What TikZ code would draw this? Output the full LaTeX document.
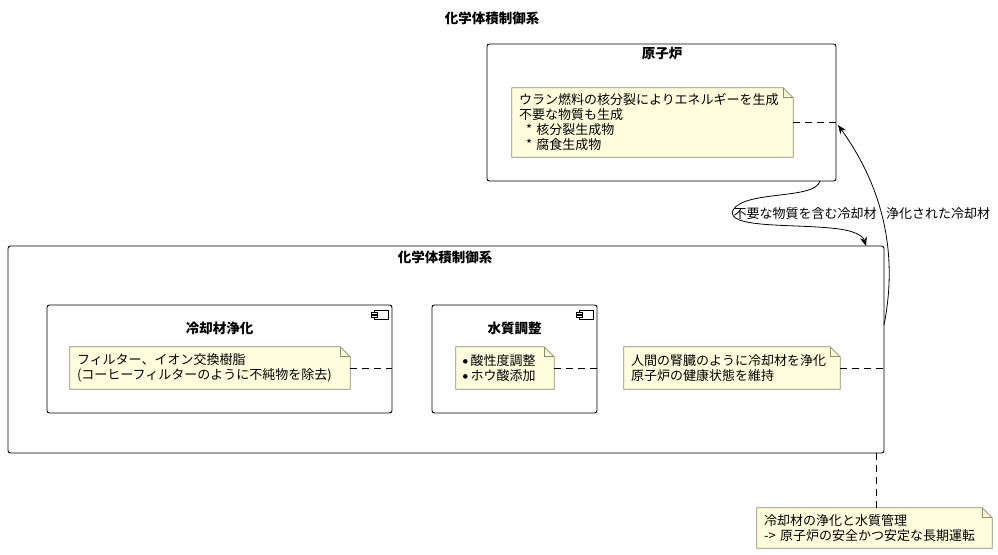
\documentclass[tikz,border=0pt]{standalone}
\usepackage{fontspec}
\setmainfont{Noto Sans CJK JP}
\usetikzlibrary{arrows.meta,backgrounds}
\definecolor{notefill}{RGB}{254,254,222}
\definecolor{noteline}{RGB}{140,140,110}
\newcommand{\dogear}[1]{%
  \begin{scope}[on background layer]
    \filldraw[fill=notefill,draw=noteline,line width=0.8pt] (#1.south west) -- (#1.north west) -- ([xshift=-10pt]#1.north east) -- ([yshift=-10pt]#1.north east) -- (#1.south east) -- cycle;
  \end{scope}
  \draw[noteline,line width=0.8pt] ([xshift=-10pt]#1.north east) -- ([xshift=-10pt,yshift=-10pt]#1.north east) -- ([yshift=-10pt]#1.north east);}
\newcommand{\compicon}[2]{%
  \draw[line width=0.7pt,fill=white] (#1,#2) rectangle (#1+14,#2+9);
  \draw[line width=0.7pt,fill=white] (#1-3,#2+2) rectangle (#1+3,#2+4);
  \draw[line width=0.7pt,fill=white] (#1-3,#2+5.5) rectangle (#1+3,#2+7.5);}
\newcommand{\bul}{\raisebox{0.25ex}{\tikz\fill[black] (0,0) circle (2.3pt);}\hspace{3pt}}
\begin{document}
\begin{tikzpicture}[x=1pt,y=-1pt,
  frame/.style={draw,line width=0.9pt,rounded corners=2.5pt},
  ttl/.style={font=\fontsize{13.5}{16}\selectfont\bfseries},
  note/.style={inner xsep=7pt,inner ysep=3pt,align=left,font=\fontsize{13}{15}\selectfont},
  lbl/.style={font=\fontsize{13}{15}\selectfont,inner sep=1pt},
  link/.style={line width=0.8pt,dashed,dash pattern=on 7pt off 5pt},
  flow/.style={line width=0.8pt,-{Stealth[length=9pt,width=7pt]}}]
\useasboundingbox (0,0) rectangle (998,554);
\begin{scope}[on background layer]
\fill[white] (0,0) rectangle (998,554);
\end{scope}

\node[ttl] (title) at (492,18) {化学体積制御系};

% reactor
\draw[frame] (487,44) rectangle (836,181);
\node[ttl] (rtitle) at (662,54) {原子炉};
\node[note,minimum width=281pt,minimum height=69pt,text width=267pt] (n1) at (652.5,122.5)
 {ウラン燃料の核分裂によりエネルギーを生成\\不要な物質も生成\\\hspace{7pt}* 核分裂生成物\\\hspace{7pt}* 腐食生成物};
\dogear{n1}
\coordinate (rR) at (836,122);
\draw[link] (n1.east |- rR) -- (rR);

% CVCS
\draw[frame] (8,246) rectangle (884,453);
\node[ttl] (ctitle) at (445,257) {化学体積制御系};

% component 1
\draw[frame] (47,305) rectangle (392,413);
\compicon{374}{310}
\node[ttl] (c1title) at (219.5,328) {冷却材浄化};
\node[note,minimum width=280pt,minimum height=42pt,text width=266pt] (n2) at (210,368)
 {フィルター、イオン交換樹脂\\(コーヒーフィルターのように不純物を除去)};
\dogear{n2}
\coordinate (c1R) at (392,368);
\draw[link] (n2.east |- c1R) -- (c1R);

% component 2
\draw[frame] (432,305) rectangle (597,413);
\compicon{579}{310}
\node[ttl] (c2title) at (514.5,328) {水質調整};
\node[note,minimum width=98pt,minimum height=42pt,text width=84pt] (n3) at (505,368)
 {\bul 酸性度調整\\\bul ホウ酸添加};
\dogear{n3}
\coordinate (c2R) at (597,368);
\draw[link] (n3.east |- c2R) -- (c2R);

% note 4
\node[note,minimum width=216pt,minimum height=42pt,text width=202pt] (n4) at (732,368)
 {人間の腎臓のように冷却材を浄化\\原子炉の健康状態を維持};
\dogear{n4}
\coordinate (cR) at (884,368);
\draw[link] (n4.east |- cR) -- (cR);

% bottom note
\node[note,minimum width=235pt,minimum height=40pt,text width=221pt] (n5) at (874.5,528)
 {冷却材の浄化と水質管理\\-> 原子炉の安全かつ安定な長期運転};
\dogear{n5}
\coordinate (cB) at (876,453);
\draw[link] (cB) -- (cB |- n5.north);

% flows
\coordinate (rB) at (820,181);
\coordinate (cT) at (866,246);
\draw[flow] (rB) .. controls (815,200) and (745,190) .. (733,210)
  .. controls (725,228) and (790,224) .. (830,228)
  .. controls (855,230) and (863,236) .. (cT);
\node[lbl] (l1) at (805,214) {不要な物質を含む冷却材};

\coordinate (cRs) at (884,325);
\coordinate (rRe) at (838,125);
\draw[flow] (cRs) .. controls (895,270) and (892,200) .. (rRe);
\node[lbl] (l2) at (938,214) {浄化された冷却材};
\end{tikzpicture}
\end{document}
